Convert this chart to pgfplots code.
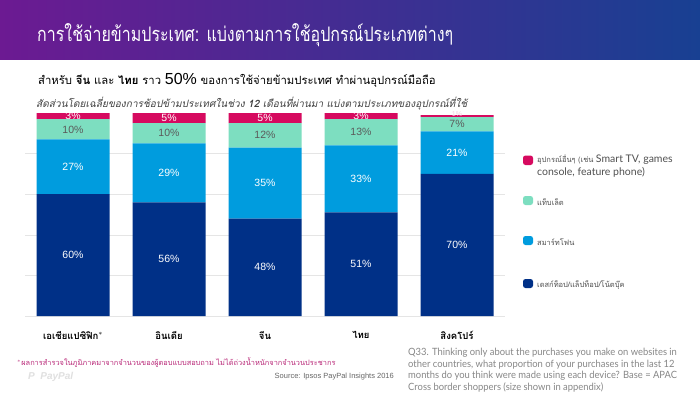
\documentclass[border=0pt]{standalone}
\usepackage{pgfplots}
\pgfplotsset{compat=1.18}
\usepackage{fontspec}
\setmainfont{Liberation Sans}
\newfontfamily\thaif[Script=Thai]{Loma}
\newfontfamily\thaic[Script=Thai,FakeStretch=0.8]{Loma}
\newfontfamily\latof{Lato}
\newfontfamily\latoq[FakeStretch=0.94]{Lato}
\definecolor{navy}{RGB}{0,48,135}
\definecolor{pblue}{RGB}{0,156,222}
\definecolor{mint}{RGB}{125,222,192}
\definecolor{mag}{RGB}{214,10,95}
\definecolor{tleft}{RGB}{108,26,146}
\definecolor{tright}{RGB}{24,64,146}
\definecolor{footpink}{RGB}{185,40,120}
\definecolor{qgray}{RGB}{135,135,135}
\definecolor{leggray}{RGB}{80,80,80}
\definecolor{mintlab}{RGB}{90,90,90}
\tikzset{qline/.style={anchor=west, text=qgray, inner sep=0, font=\latoq\fontsize{10}{12}\selectfont}}
\pgfplotsset{chartbox/.style={at={(25pt,-316pt)}, anchor=south west, scale only axis,
  width=480pt, height=203pt, xmin=-0.5, xmax=4.5, ymin=0, ymax=100, clip=false}}
\begin{document}
\begin{tikzpicture}
\useasboundingbox (0,0) rectangle (700pt,-394pt);
\fill[white] (0,0) rectangle (700pt,-394pt);
\shade[left color=tleft, right color=tright] (0,0) rectangle (700pt,-59pt);
\node[anchor=west, text=white, inner sep=0] at (37pt,-35pt) {\thaic\fontsize{20}{24}\selectfont การใช้จ่ายข้ามประเทศ: แบ่งตามการใช้อุปกรณ์ประเภทต่างๆ};
\node[anchor=west, text=black, inner sep=0] at (38pt,-80pt) {\thaif\fontsize{11.3}{14}\selectfont สำหรับ {\bfseries จีน} และ {\bfseries ไทย} ราว {\rmfamily\fontsize{16}{18}\selectfont 50\%} ของการใช้จ่ายข้ามประเทศ ทำผ่านอุปกรณ์มือถือ};
\node[anchor=west, text=black!75, inner sep=0] at (36pt,-104pt) {\thaif\itshape\fontsize{10.1}{12}\selectfont สัดส่วนโดยเฉลี่ยของการช้อปข้ามประเทศในช่วง {\bfseries 12} เดือนที่ผ่านมา แบ่งตามประเภทของอุปกรณ์ที่ใช้};
\begin{axis}[chartbox,
  ybar stacked, bar width=73pt,
  axis line style={draw=none},
  ytick={0,20,40,60,80}, yticklabels={},
  major tick length=0pt,
  ymajorgrids, grid style={black!10, line width=0.6pt},
  xtick={0,1,2,3,4},
  xticklabels={{เอเชียแปซิฟิก$^{*}$},อินเดีย,จีน,ไทย,สิงคโปร์},
  xticklabel style={font=\thaif\bfseries\fontsize{9.5}{11}\selectfont, yshift=-12pt},
]
\addplot[fill=navy, draw=none] coordinates {(0,60) (1,56) (2,48) (3,51) (4,70)};
\addplot[fill=pblue, draw=none] coordinates {(0,27) (1,29) (2,35) (3,33) (4,21)};
\addplot[fill=mint, draw=none] coordinates {(0,10) (1,10) (2,12) (3,13) (4,7)};
\addplot[fill=mag, draw=none] coordinates {(0,3) (1,5) (2,5) (3,3) (4,1)};
\end{axis}
\begin{axis}[chartbox, hide axis,
  nodes near coords, point meta=explicit symbolic,
  nodes near coords style={anchor=center, inner sep=0pt, font=\fontsize{10.5}{12}\selectfont},
]
\addplot[draw=none, mark=none, nodes near coords style={text=white}] coordinates {
  (0,30)[60\%] (1,28)[56\%] (2,24)[48\%] (3,25.5)[51\%] (4,35)[70\%]};
\addplot[draw=none, mark=none, nodes near coords style={text=white}] coordinates {
  (0,73.5)[27\%] (1,70.5)[29\%] (2,65.5)[35\%] (3,67.5)[33\%] (4,80.5)[21\%]};
\addplot[draw=none, mark=none, nodes near coords style={text=mintlab}] coordinates {
  (0,91.5)[10\%] (1,90)[10\%] (2,89)[12\%] (3,90.5)[13\%] (4,94.5)[7\%]};
\addplot[draw=none, mark=none, nodes near coords style={text=white}] coordinates {
  (0,98.6)[3\%] (1,97.5)[5\%] (2,97.5)[5\%] (3,98.6)[3\%]};
\addplot[draw=none, mark=none, nodes near coords style={text=white!80!mag, font=\fontsize{7}{8}\selectfont}] coordinates {
  (4,99.4)[1\%]};
\end{axis}
\fill[mag, rounded corners=2.5pt] (523pt,-155.5pt) rectangle (533pt,-165pt);
\fill[mint, rounded corners=2.5pt] (523pt,-196pt) rectangle (533pt,-205pt);
\fill[pblue, rounded corners=2.5pt] (523pt,-236pt) rectangle (533pt,-245pt);
\fill[navy, rounded corners=2.5pt] (523pt,-279pt) rectangle (533pt,-288pt);
\node[anchor=west, text=leggray, inner sep=0] at (537pt,-160pt) {{\thaif\fontsize{7.5}{9}\selectfont อุปกรณ์อื่นๆ (เช่น }{\latof\fontsize{10.5}{12}\selectfont Smart TV, games}};
\node[anchor=west, text=leggray, inner sep=0] at (537pt,-172.5pt) {\latof\fontsize{10.5}{12}\selectfont console, feature phone)};
\node[anchor=west, text=leggray, inner sep=0] at (537pt,-202pt) {\thaif\fontsize{7.5}{9}\selectfont แท็บเล็ต};
\node[anchor=west, text=leggray, inner sep=0] at (537pt,-242pt) {\thaif\fontsize{7.5}{9}\selectfont สมาร์ทโฟน};
\node[anchor=west, text=leggray, inner sep=0] at (537pt,-285pt) {\thaif\fontsize{7.5}{9}\selectfont เดสก์ท็อป/แล็ปท็อป/โน้ตบุ๊ค};
\node[anchor=west, text=footpink, inner sep=0] at (17pt,-363pt) {\thaif\fontsize{7.4}{9}\selectfont $^{*}$ผลการสำรวจในภูมิภาคมาจากจำนวนของผู้ตอบแบบสอบถาม ไม่ได้ถ่วงน้ำหนักจากจำนวนประชากร};
\node[anchor=west, text=black!12, inner sep=0] at (28pt,-377pt) {\fontsize{10}{12}\selectfont\bfseries\itshape P\ \ PayPal};
\node[anchor=east, text=black!60, inner sep=0] at (394pt,-377pt) {\fontsize{7.5}{9}\selectfont Source: Ipsos PayPal Insights 2016};
\node[qline] at (408pt,-353pt) {Q33. Thinking only about the purchases you make on websites in};
\node[qline] at (408pt,-365pt) {other countries, what proportion of your purchases in the last 12};
\node[qline] at (408pt,-376pt) {months do you think were made using each device? Base = APAC};
\node[qline] at (408pt,-387.5pt) {Cross border shoppers (size shown in appendix)};
\end{tikzpicture}
\end{document}
